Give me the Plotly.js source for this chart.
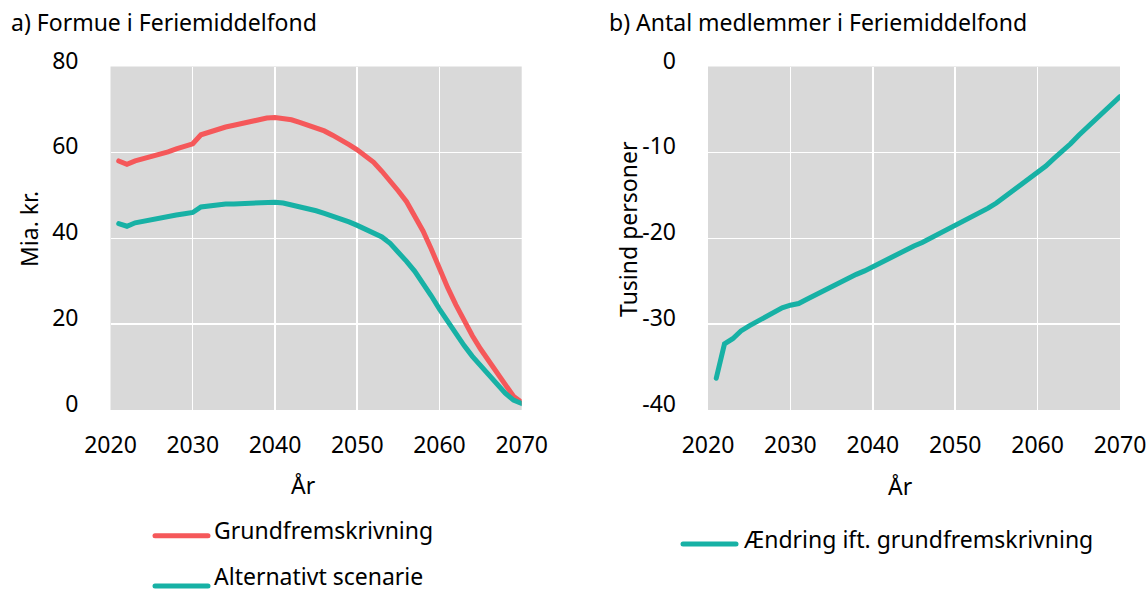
<!DOCTYPE html>
<html><head><meta charset="utf-8">
<script src="https://cdn.plot.ly/plotly-3.0.1.min.js"></script>
<style>
html,body{margin:0;padding:0;background:#fff;}
#chart{width:1148px;height:592px;}
.js-line{stroke-linecap:round;}
.shapelayer path{stroke-linecap:round;}
</style></head><body><div id="chart"></div>
<script>
// ---- data ----
const years = [2021,2022,2023,2024,2025,2026,2027,2028,2029,2030,
  2031,2032,2033,2034,2035,2036,2037,2038,2039,2040,
  2041,2042,2043,2044,2045,2046,2047,2048,2049,2050,
  2051,2052,2053,2054,2055,2056,2057,2058,2059,2060,
  2061,2062,2063,2064,2065,2066,2067,2068,2069,2070];
const grundfremskrivning = [58.0,57.2,58.0,58.5,59.0,59.5,60.1,60.8,61.3,62.0,
  64.1,64.8,65.4,65.9,66.3,66.7,67.2,67.6,68.0,68.1,
  67.9,67.6,67.0,66.4,65.8,65.0,64.0,63.0,61.8,60.6,
  59.3,57.7,55.6,53.4,51.0,48.5,45.3,41.7,37.5,32.8,
  28.5,24.5,20.8,17.3,14.2,11.4,8.4,5.5,3.2,1.8];
const alternativtScenarie = [43.4,42.8,43.6,44.0,44.4,44.7,45.1,45.4,45.7,46.0,
  47.3,47.6,47.8,48.0,48.0,48.1,48.2,48.3,48.5,48.4,
  48.2,47.8,47.4,46.9,46.4,45.8,45.2,44.5,43.8,43.0,
  42.2,41.3,40.3,38.8,36.8,34.6,32.3,29.6,26.6,23.5,
  20.5,17.6,15.0,12.5,10.3,8.1,5.9,3.9,2.3,1.5];
const aendringMedlemmer = [-36.3,-32.3,-31.7,-30.8,-30.2,-29.7,-29.1,-28.6,-28.1,-27.8,
  -27.6,-27.1,-26.6,-26.1,-25.6,-25.1,-24.7,-24.2,-23.8,-23.3,
  -22.8,-22.3,-21.9,-21.4,-20.9,-20.5,-20.0,-19.5,-19.1,-18.6,
  -18.1,-17.6,-17.0,-16.5,-15.9,-15.2,-14.5,-13.8,-13.1,-12.4,
  -11.6,-10.7,-9.9,-9.0,-8.0,-7.1,-6.1,-5.2,-4.4,-3.5];
const xTickVals = [2020,2030,2040,2050,2060,2070];
const leftTickVals = [0,20,40,60,80];
const rightTickVals = [-40,-30,-20,-10,0];
const rightTickText = ["-40","-30","-20","-10","0"];
const titleA = "a) Formue i Feriemiddelfond";
const titleB = "b) Antal medlemmer i Feriemiddelfond";
const yTitleA = "Mia. kr.";
const yTitleB = "Tusind personer";
const xTitle = "År";
const legendA = ["Grundfremskrivning", "Alternativt scenarie"];
const legendB = ["Ændring ift. grundfremskrivning"];

// ---- styling ----
const W = 1148, H = 592;
const px = x => x / W, py = y => 1 - y / H;
const RED = "#F5585A", TEAL = "#17B1A5", BG = "#D9D9D9";
const FONT = "Noto Sans";
const FS = 23;

const traces = [
  {x: years, y: grundfremskrivning, type: "scatter", mode: "lines", name: legendA[0],
   line: {color: RED, width: 5}, xaxis: "x", yaxis: "y", showlegend: false},
  {x: years, y: alternativtScenarie, type: "scatter", mode: "lines", name: legendA[1],
   line: {color: TEAL, width: 5}, xaxis: "x", yaxis: "y", showlegend: false},
  {x: years, y: aendringMedlemmer, type: "scatter", mode: "lines", name: legendB[0],
   line: {color: TEAL, width: 5}, xaxis: "x2", yaxis: "y2", showlegend: false}
];

const xCommon = {range: [2020, 2070], tickvals: xTickVals, showgrid: true,
  gridcolor: "#ffffff", gridwidth: 1.5, zeroline: false, showline: false, ticks: "",
  ticklabelstandoff: 19, tickfont: {family: FONT, size: FS, color: "#000"}, fixedrange: true};
const yCommon = {showgrid: true, gridcolor: "#ffffff", gridwidth: 1.5, zeroline: false,
  showline: false, ticks: "", ticklabelstandoff: 31, ticklabelshift: -6,
  tickfont: {family: FONT, size: FS, color: "#000"}, fixedrange: true,
  domain: [py(410), py(66.5)]};

const ann = (text, x, y, opts) => Object.assign({text, x: px(x), y: py(y), xref: "paper", yref: "paper",
  showarrow: false, font: {family: FONT, size: FS, color: "#000"}}, opts || {});

const layout = {
  width: W, height: H,
  margin: {l: 0, r: 0, t: 0, b: 0},
  paper_bgcolor: "#fff", plot_bgcolor: BG,
  showlegend: false,
  font: {family: FONT, size: FS, color: "#000"},
  xaxis: Object.assign({}, xCommon, {domain: [px(110.5), px(521.7)], anchor: "y"}),
  yaxis: Object.assign({}, yCommon, {range: [0, 80], tickvals: leftTickVals, anchor: "x"}),
  xaxis2: Object.assign({}, xCommon, {domain: [px(708), px(1120)], anchor: "y2"}),
  yaxis2: Object.assign({}, yCommon, {range: [-40, 0], tickvals: rightTickVals,
    ticktext: rightTickText, anchor: "x2"}),
  annotations: [
    ann(titleA, 9, 22, {xanchor: "left", yanchor: "middle"}),
    ann(titleB, 607, 22, {xanchor: "left", yanchor: "middle"}),
    ann(yTitleA, 29, 229, {textangle: -90, xanchor: "center", yanchor: "middle"}),
    ann(yTitleB, 628, 229, {textangle: -90, xanchor: "center", yanchor: "middle"}),
    ann(xTitle, 303, 485, {xanchor: "center", yanchor: "middle"}),
    ann(xTitle, 900, 486, {xanchor: "center", yanchor: "middle"}),
    ann(legendA[0], 212, 530, {xanchor: "left", yanchor: "middle"}),
    ann(legendA[1], 212, 575.5, {xanchor: "left", yanchor: "middle"}),
    ann(legendB[0], 741, 539, {xanchor: "left", yanchor: "middle"})
  ],
  shapes: [
    {type: "line", xref: "paper", yref: "paper", x0: px(155), x1: px(208), y0: py(535.7), y1: py(535.7), line: {color: RED, width: 5}},
    {type: "line", xref: "paper", yref: "paper", x0: px(155), x1: px(208), y0: py(586), y1: py(586), line: {color: TEAL, width: 5}},
    {type: "line", xref: "paper", yref: "paper", x0: px(683), x1: px(736), y0: py(544), y1: py(544), line: {color: TEAL, width: 5}}
  ]
};

Plotly.newPlot("chart", traces, layout, {displayModeBar: false, staticPlot: true});
</script>
</body></html>
